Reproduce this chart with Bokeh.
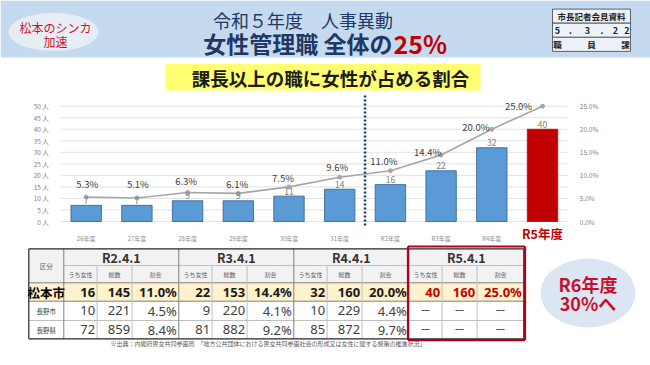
from bokeh.plotting import figure
from bokeh.models import (ColumnDataSource, Range1d, LinearAxis, FixedTicker,
                          NumeralTickFormatter, CustomJSTickFormatter)
from bokeh.embed import file_html
from bokeh.resources import INLINE
from bokeh.core.properties import value

# ---------------- data ----------------
years = ["26年度", "27年度", "28年度", "29年度", "30年度", "31年度", "R2年度", "R3年度", "R4年度", "R5年度"]
women_managers = [7, 7, 9, 9, 11, 14, 16, 22, 32, 40]
women_ratio = [0.053, 0.051, 0.063, 0.061, 0.075, 0.096, 0.110, 0.144, 0.200, 0.250]

left_ticks = [0, 5, 10, 15, 20, 25, 30, 35, 40, 45, 50]
right_ticks = [0.0, 0.05, 0.10, 0.15, 0.20, 0.25]

table_dates = ["R2.4.1", "R3.4.1", "R4.4.1", "R5.4.1"]
table_subheads = ["うち女性", "総数", "割合"]
table_regions = ["松本市", "長野市", "長野県"]
matsumoto_women = [16, 22, 32, 40]
matsumoto_total = [145, 153, 160, 160]
matsumoto_ratio = [0.110, 0.144, 0.200, 0.250]
nagano_city_women = [10, 9, 10, None]
nagano_city_total = [221, 220, 229, None]
nagano_city_ratio = [0.045, 0.041, 0.044, None]
nagano_pref_women = [72, 81, 85, None]
nagano_pref_total = [859, 882, 872, None]
nagano_pref_ratio = [0.084, 0.092, 0.097, None]

FONT = "Noto Sans CJK JP"
NAVY = "#1F3864"
RED = "#C00000"

# ---------------- one figure, frame = whole canvas ----------------
W, H = 650, 365
NCAT = len(years)
CH_LEFT, CAT_W = 60.35, 50.7          # chart area left edge / category width (px)
CH_BASE, PX_PER = 221.0, 2.306        # y px of 0 persons / px per person
x_start = -CH_LEFT / CAT_W
x_end = (W - CH_LEFT) / CAT_W
y_start = -(H - CH_BASE) / PX_PER
y_end = CH_BASE / PX_PER

p = figure(width=W, height=H, x_range=Range1d(x_start, x_end), y_range=Range1d(y_start, y_end),
           output_backend="svg", toolbar_location=None, title=None, min_border=0)
p.outline_line_color = None
p.background_fill_color = "white"
p.border_fill_color = "white"
p.grid.visible = False
p.extra_x_ranges = {"px": Range1d(0, W)}
p.extra_y_ranges = {"pct": Range1d(y_start / 200, y_end / 200), "py": Range1d(H, 0)}

ya = p.yaxis[0]
ya.fixed_location = 0
ya.ticker = FixedTicker(ticks=left_ticks)
ya.formatter = CustomJSTickFormatter(code="return tick + ' 人'")
rax = LinearAxis(y_range_name="pct", ticker=FixedTicker(ticks=right_ticks),
                 formatter=NumeralTickFormatter(format="0.0%"), fixed_location=NCAT)
p.add_layout(rax, "right")
for ax in [ya, rax]:
    ax.axis_line_color = None
    ax.major_tick_line_color = None
    ax.minor_tick_line_color = None
    ax.major_label_text_font = FONT
    ax.major_label_text_font_size = "6.5px"
    ax.major_label_text_color = "#7F7F7F"
    ax.major_label_standoff = 6

xpos = [i + 0.5 for i in range(NCAT)]
xa = p.xaxis[0]
xa.fixed_location = 0
xa.ticker = FixedTicker(ticks=xpos)
xa.formatter = CustomJSTickFormatter(args=dict(labels=years), code="""
const i = Math.round(tick - 0.5);
return (i == labels.length - 1) ? "" : labels[i];
""")
xa.axis_line_color = None
xa.major_tick_line_color = None
xa.minor_tick_line_color = None
xa.major_label_text_font = FONT
xa.major_label_text_font_size = "6px"
xa.major_label_text_color = "#8C8C8C"
xa.major_label_standoff = 6

# gridlines across the chart area only
p.segment(x0=0, x1=NCAT, y0=left_ticks, y1=left_ticks, line_color="#E3E3E3", line_width=1)


# ---------------- helpers (page pixel coords) ----------------
def qd(l, r, t, b, fill):
    p.quad(left=l, right=r, top=t, bottom=b, fill_color=fill, line_color=None,
           x_range_name="px", y_range_name="py")


def frame_box(l, r, t, b, color, lw):
    p.segment(x0=[l, r, r, l], y0=[t, t, b, b], x1=[r, r, l, l], y1=[t, b, b, t],
              line_color=color, line_width=lw, x_range_name="px", y_range_name="py")


def seg(x0, y0, x1, y1, color, lw=1.0):
    p.segment(x0=x0, y0=y0, x1=x1, y1=y1, line_color=color, line_width=lw,
              x_range_name="px", y_range_name="py")


def lab(x, y, t, size, color, align="center", bold=False, font=FONT):
    if not isinstance(x, list):
        x, y, t = [x], [y], [t]
    p.text(x=x, y=y, text=t, text_font=value(font), text_font_size=size, text_color=color,
           text_align=align, text_baseline="middle", text_font_style="bold" if bold else "normal",
           x_range_name="px", y_range_name="py")


# ---------------- header ----------------
qd(0, W, 0, 57, "#C6DAEF")
p.ellipse(x=53, y=31.5, width=90, height=38, fill_color="#E7EDF5", line_color=None,
          x_range_name="px", y_range_name="py")
lab(55, 26.5, "松本のシンカ", "12px", "#D0102A")
lab(55, 40.5, "加速", "12px", "#D0102A")
lab(302.5, 19.5, "令和５年度　人事異動", "18px", NAVY)
lab(392, 42, "女性管理職 全体の", "23px", NAVY, align="right", bold=True)
lab(393, 42, "25%", "25px", RED, align="left", bold=True)
for (t0, b0) in [(8.6, 22.7), (22.7, 36.8), (36.8, 50.9)]:
    qd(552, 630, t0, b0, "#EDF2F8")
    frame_box(552, 630, t0, b0, "#404040", 0.8)
lab(591, 15.7, "市長記者会見資料", "8.5px", "#222222", bold=True)
lab([557, 570, 587, 601.5, 615, 626.5], [29.8] * 6, ["5", ".", "3", ".", "2", "2"], "9px", "#222222", bold=True)
lab([557, 591, 625], [43.9] * 3, ["職", "員", "課"], "8.5px", "#222222", bold=True)
qd(165, 480, 63.5, 90, "#FFFF71")
lab(330, 77, "課長以上の職に女性が占める割合", "18.5px", "#1A1A1A", bold=True)

# ---------------- chart marks ----------------
bar_fill = ["#5B9BD5"] * (NCAT - 1) + [RED]
bar_line = ["#2F5F8F"] * (NCAT - 1) + [RED]
pct_dx = [1, 1, -1.5, -1, -6, -2.5, -6.5, -13.5, -16, -24]
pct_dy = [-13.5, -14, -11, -9.5, -9, -10.5, -10, -3, -2, 0]
src = ColumnDataSource(dict(
    x=xpos, year=years, n=women_managers, ratio=women_ratio,
    fill=bar_fill, line=bar_line,
    n_label=[str(v) for v in women_managers],
    pct_label=[f"{r * 100:.1f}%" for r in women_ratio],
    dx=pct_dx, dy=pct_dy,
))
p.vbar(x="x", top="n", bottom=0, width=0.6, fill_color="fill", line_color="line", line_width=0.8, source=src)
p.line(x="x", y="ratio", y_range_name="pct", line_color="#A6A6A6", line_width=1.6, source=src)
p.scatter(x="x", y="ratio", y_range_name="pct", size=4, fill_color="#A6A6A6",
          line_color="#A6A6A6", source=src)
p.text(x="x", y="n", text="n_label", source=src, text_font=value(FONT), text_font_size="8.5px",
       text_color="#7F7F7F", text_align="center", text_baseline="bottom", y_offset=-1.5)
p.text(x="x", y="ratio", y_range_name="pct", text="pct_label", source=src, x_offset="dx",
       y_offset="dy", text_font=value(FONT), text_font_size="9.5px", text_color="#404040",
       text_align="center", text_baseline="middle")
# dotted separator between 31年度 and R2年度
sep = years.index("R2年度")
p.segment(x0=sep, x1=sep, y0=-1.7, y1=54.6, line_color=NAVY, line_width=2.5, line_dash="2 2")
# red R5 label under its bar
lab(CH_LEFT + CAT_W * xpos[-1], 233, years[-1], "12.5px", RED, bold=True)

# ---------------- table ----------------
L, R = 28.3, 523.3
rows = [248.3, 265, 282.3, 300.7, 320, 338.3]
c0 = 63.3
GW = 115
sub_w = [33.3, 35, 46.7]
qd(L, R, rows[0], rows[2], "#F2F2F2")
qd(L, R, rows[2], rows[3], "#FFF2CC")
seg([c0, L, L, L], [rows[1], rows[2], rows[3], rows[4]], [R, R, R, R], [rows[1], rows[2], rows[3], rows[4]],
    ["#BFBFBF", "#7F7F7F", "#7F7F7F", "#BFBFBF"])
vx, vy0, vc = [], [], []
for g in range(len(table_dates)):
    base = c0 + GW * g
    vx += [base, base + sub_w[0], base + sub_w[0] + sub_w[1]]
    vy0 += [rows[0], rows[1], rows[1]]
    vc += ["#7F7F7F", "#BFBFBF", "#BFBFBF"]
seg(vx, vy0, vx, [rows[-1]] * len(vx), vc)
frame_box(L, R, rows[0], rows[-1], "#262626", 1.2)
frame_box(c0 + GW * 3 - 0.8, R + 1.2, 246, 339.6, "#B0001E", 2.2)

cx0 = (L + c0) / 2
row_mid = [(rows[i] + rows[i + 1]) / 2 for i in range(len(rows) - 1)]
lab(cx0, (rows[0] + rows[2]) / 2, "区分", "6.5px", "#595959")
sx, st = [], []
for g, d in enumerate(table_dates):
    base = c0 + GW * g
    edges = [base, base + sub_w[0], base + sub_w[0] + sub_w[1], base + GW]
    for k in range(3):
        sx.append((edges[k] + edges[k + 1]) / 2)
        st.append(table_subheads[k])
lab([c0 + GW * g + GW / 2 for g in range(4)], [row_mid[0]] * 4, table_dates, "12.5px", "#333333", bold=True)
lab(sx, [row_mid[1]] * len(sx), st, "6px", "#595959")
lab(cx0, row_mid[2], table_regions[0], "12.5px", "#000000", bold=True)
lab([cx0, cx0], [row_mid[3], row_mid[4]], table_regions[1:], "6.5px", "#404040")

row_data = [
    (matsumoto_women, matsumoto_total, matsumoto_ratio),
    (nagano_city_women, nagano_city_total, nagano_city_ratio),
    (nagano_pref_women, nagano_pref_total, nagano_pref_ratio),
]
groups = {}
for ri, (wv, tv, rv) in enumerate(row_data):
    ymid = row_mid[2 + ri]
    for g in range(4):
        base = c0 + GW * g
        edges = [base, base + sub_w[0], base + sub_w[0] + sub_w[1], base + GW]
        vals = [wv[g], tv[g], rv[g]]
        for k in range(3):
            v = vals[k]
            if v is None:
                key = ("dash",)
                groups.setdefault(key, []).append(((edges[k] + edges[k + 1]) / 2, ymid, "ー"))
                continue
            s = f"{v * 100:.1f}%" if k == 2 else str(v)
            if ri == 0:
                key = ("bold", RED if g == 3 else "#1A1A1A")
            else:
                key = ("normal", "#404040")
            groups.setdefault(key, []).append((edges[k + 1] - 2, ymid, s))
for key, items in groups.items():
    xs = [it[0] for it in items]
    ys = [it[1] for it in items]
    ts = [it[2] for it in items]
    if key[0] == "dash":
        lab(xs, ys, ts, "10px", "#404040")
    else:
        lab(xs, ys, ts, "13px", key[1], align="right", bold=(key[0] == "bold"), font="Noto Sans")

lab(110, 342.8, "※出典：内閣府男女共同参画局　「地方公共団体における男女共同参画社会の形成又は女性に関する施策の推進状況」",
    "6px", "#595959", align="left")

p.ellipse(x=587.5, y=292.5, width=95, height=69, fill_color="#DCE6F2", line_color=None,
          x_range_name="px", y_range_name="py")
lab([587.5, 587.5], [283, 302], ["R6年度", "30%へ"], "18px", "#C8102E", bold=True)

open("out.html", "w").write(file_html(p, INLINE))
